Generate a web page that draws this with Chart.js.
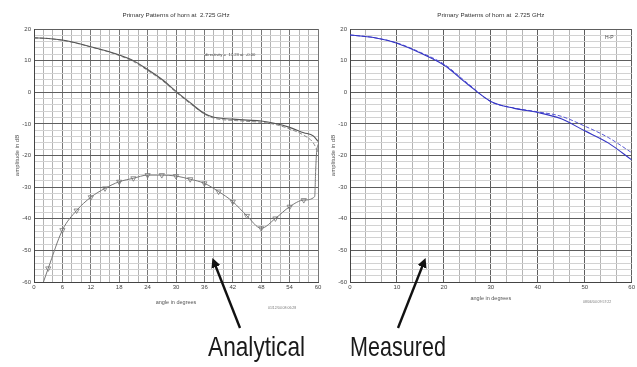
<!DOCTYPE html>
<html>
<head>
<meta charset="utf-8">
<script src="https://cdn.jsdelivr.net/npm/chart.js@4.4.1/dist/chart.umd.min.js"></script>
<style>
  body { margin:0; background:#fff; width:637px; height:367px; overflow:hidden; position:relative; font-family:"Liberation Sans", Arial, sans-serif; }
  .wrap { position:absolute; top:0; }
  .big { position:absolute; font-size:28px; line-height:28px; color:#1a1a1a; transform-origin:0 0; white-space:nowrap; }
  svg { position:absolute; left:0; top:0; }
</style>
</head>
<body>
<div class="wrap" style="left:0;width:325px;height:315px"><canvas id="analytical" width="325" height="315"></canvas></div>
<div class="wrap" style="left:320px;width:317px;height:315px"><canvas id="measured" width="317" height="315"></canvas></div>

<svg width="637" height="367">
  <defs>
    <marker id="head" markerWidth="4" markerHeight="4" refX="2.2" refY="2" orient="auto" markerUnits="strokeWidth">
      <path d="M0,0 L4,2 L0,4 z" fill="#111"></path>
    </marker>
  </defs>
  <line x1="240" y1="328" x2="214" y2="262" stroke="#111" stroke-width="2.4" marker-end="url(#head)"></line>
  <line x1="398" y1="328" x2="424" y2="262" stroke="#111" stroke-width="2.4" marker-end="url(#head)"></line>
</svg>
<div class="big" style="left:208px;top:333px;transform:scaleX(0.81)">Analytical</div>
<div class="big" style="left:350px;top:333px;transform:scaleX(0.77)">Measured</div>

<script>
// analytical (left) curves
const analyticalAngles = [0, 3, 6, 9, 12, 15, 18, 21, 24, 27, 30, 33, 36, 38, 40, 42, 45, 48, 51, 54, 57, 59, 60];
const analyticalSolid = [17.2, 17.0, 16.5, 15.6, 14.4, 13.2, 11.8, 10.0, 7.2, 4.1, 0.3, -3.3, -6.7, -7.9, -8.3, -8.5, -8.8, -9.1, -9.9, -11.1, -12.8, -13.8, -15.5];
const analyticalDashed = [17.2, 17.0, 16.4, 15.5, 14.3, 13.1, 11.6, 9.7, 6.9, 3.8, 0.0, -3.6, -6.9, -8.2, -8.7, -8.9, -9.2, -9.5, -10.2, -11.6, -13.6, -16.0, -19.0];
const crossAngles = [2.0, 3, 6, 9, 12, 15, 18, 21, 24, 27, 30, 33, 36, 39, 42, 45, 48, 51, 54, 57, 59.3, 59.5, 59.7, 60];
const crossValues = [-60, -55.7, -43.6, -37.4, -33.2, -30.4, -28.3, -27.2, -26.2, -26.2, -26.5, -27.5, -28.8, -31.4, -34.6, -39.1, -43.0, -39.9, -36.2, -34.1, -33.0, -25.0, -19.0, -16.5];
const crossMarkers = [3, 6, 9, 12, 15, 18, 21, 24, 27, 30, 33, 36, 39, 42, 45, 48, 51, 54, 57];

// measured (right) curves
const measuredAngles = [0, 5, 10, 15, 20, 25, 30, 35, 40, 45, 50, 55, 60];
const measuredSolid = [18.1, 17.3, 15.5, 12.4, 8.6, 2.6, -2.9, -5.1, -6.4, -8.4, -12.2, -16.0, -21.4];
const measuredDashed = [18.1, 17.3, 15.6, 12.6, 8.9, 2.9, -3.0, -5.0, -6.2, -7.6, -10.7, -14.3, -19.1];

// axes
const yMin = -60, yMax = 20, yStep = 2, yLabelEvery = 10;
const leftXStep = 2, leftXLabelEvery = 6;
const rightXLabels = [0, 10, 20, 30, 40, 50, 60];
const rightXDivisions = 3;

const chartTitle = 'Primary Patterns of horn at  2.725 GHz';
const FONT = '"Liberation Sans", Arial, sans-serif';

function pts(xs, ys) {
  return xs.map((x, i) => ({ x: x, y: ys[i] }));
}

function isMult(v, m) {
  return Math.abs(v / m - Math.round(v / m)) < 1e-6;
}

const notes = {
  id: 'notes',
  afterDraw(chart, args, opts) {
    const { ctx, chartArea } = chart;
    ctx.save();
    ctx.fillStyle = '#333';
    ctx.textBaseline = 'middle';
    ctx.textAlign = 'center';
    ctx.font = '6.2px ' + FONT;
    ctx.fillText(chartTitle, (chartArea.left + chartArea.right) / 2, 15);
    ctx.textAlign = 'left';
    (opts.texts || []).forEach(t => {
      ctx.font = t.size + 'px ' + FONT;
      ctx.fillStyle = t.color || '#444';
      ctx.fillText(t.text, t.x, t.y);
    });
    ctx.restore();
  }
};

function yScale(width, titlePad) {
  return {
    min: yMin, max: yMax,
    afterFit: s => { s.width = width; },
    ticks: {
      stepSize: yStep, autoSkip: false, padding: 3,
      color: '#444', font: { family: FONT, size: 6 },
      callback: v => isMult(v, yLabelEvery) ? String(v) : ''
    },
    grid: {
      drawTicks: false,
      color: c => isMult(c.tick.value, yLabelEvery) ? '#5e5e5e' : '#d2d2d2'
    },
    border: { color: '#444' },
    title: {
      display: true, text: 'amplitude in dB', color: '#555',
      font: { family: FONT, size: 6 }, padding: { top: titlePad, bottom: 0 }
    }
  };
}

function xTitle(pad) {
  return {
    display: true, text: 'angle in degrees', color: '#555',
    font: { family: FONT, size: 5.5 }, padding: { top: 0, bottom: pad }
  };
}

new Chart(document.getElementById('analytical'), {
  type: 'line',
  data: {
    datasets: [
      {
        data: pts(analyticalAngles, analyticalSolid),
        borderColor: '#555', borderWidth: 1.1, pointRadius: 0
      },
      {
        data: pts(analyticalAngles, analyticalDashed),
        borderColor: '#8a8a8a', borderWidth: 1, borderDash: [4, 2], pointRadius: 0
      },
      {
        data: pts(crossAngles, crossValues),
        borderColor: '#777', borderWidth: 1,
        pointStyle: 'triangle', rotation: 180,
        pointRadius: c => crossMarkers.includes(crossAngles[c.dataIndex]) ? 3 : 0,
        pointBorderColor: '#777', pointBackgroundColor: 'rgba(255,255,255,0)', pointBorderWidth: 0.8
      }
    ]
  },
  options: {
    responsive: false,
    animation: false,
    devicePixelRatio: 1,
    datasets: { line: { cubicInterpolationMode: 'monotone', fill: false } },
    layout: { padding: { top: 29, right: 7, left: 0, bottom: 0 } },
    plugins: {
      legend: { display: false },
      tooltip: { enabled: false },
      notes: {
        texts: [
          { text: 'directivity =  17.23 at  -0.00', x: 205, y: 55, size: 4.2 },
          { text: '01/12/04 08:06:28', x: 268, y: 308, size: 3.5, color: '#777' }
        ]
      }
    },
    scales: {
      x: {
        type: 'linear', min: 0, max: 60,
        afterFit: s => { s.height = 33; },
        ticks: {
          stepSize: leftXStep, autoSkip: false, maxRotation: 0, padding: 2,
          color: '#444', font: { family: FONT, size: 6 },
          callback: v => isMult(v, leftXLabelEvery) ? String(v) : ''
        },
        grid: {
          drawTicks: false,
          color: c => isMult(c.tick.value, leftXLabelEvery) ? '#777' : '#b4b4b4'
        },
        border: { color: '#444' },
        title: xTitle(9.5)
      },
      y: yScale(34, 13.4)
    }
  },
  plugins: [notes]
});

new Chart(document.getElementById('measured'), {
  type: 'line',
  data: {
    datasets: [
      {
        data: pts(measuredAngles, measuredSolid),
        borderColor: '#3434c4', borderWidth: 1.1, pointRadius: 0
      },
      {
        data: pts(measuredAngles, measuredDashed),
        borderColor: '#5656d4', borderWidth: 1, borderDash: [4, 2], pointRadius: 0
      }
    ]
  },
  options: {
    responsive: false,
    animation: false,
    devicePixelRatio: 1,
    datasets: { line: { cubicInterpolationMode: 'monotone', fill: false } },
    layout: { padding: { top: 29, right: 5, left: 0, bottom: 0 } },
    plugins: {
      legend: { display: false },
      tooltip: { enabled: false },
      notes: {
        texts: [
          { text: 'H-P', x: 285, y: 38, size: 5 },
          { text: '08/06/04 09:57:22', x: 263, y: 302, size: 3.5, color: '#777' }
        ]
      }
    },
    scales: {
      x: {
        type: 'linear', min: 0, max: 60,
        afterFit: s => { s.height = 33; },
        afterBuildTicks: s => {
          const t = [];
          const step = (rightXLabels[1] - rightXLabels[0]) / rightXDivisions;
          const n = (rightXLabels.length - 1) * rightXDivisions;
          for (let i = 0; i <= n; i++) t.push({ value: rightXLabels[0] + i * step });
          s.ticks = t;
        },
        ticks: {
          autoSkip: false, maxRotation: 0, padding: 2,
          color: '#444', font: { family: FONT, size: 6 },
          callback: v => rightXLabels.some(l => Math.abs(l - v) < 1e-6) ? String(Math.round(v)) : ''
        },
        grid: {
          drawTicks: false,
          color: c => isMult(c.tick.value, 10) ? '#5e5e5e' : '#b4b4b4'
        },
        border: { color: '#444' },
        title: xTitle(13.5)
      },
      y: yScale(30, 9.4)
    }
  },
  plugins: [notes]
});
</script>
</body>
</html>
